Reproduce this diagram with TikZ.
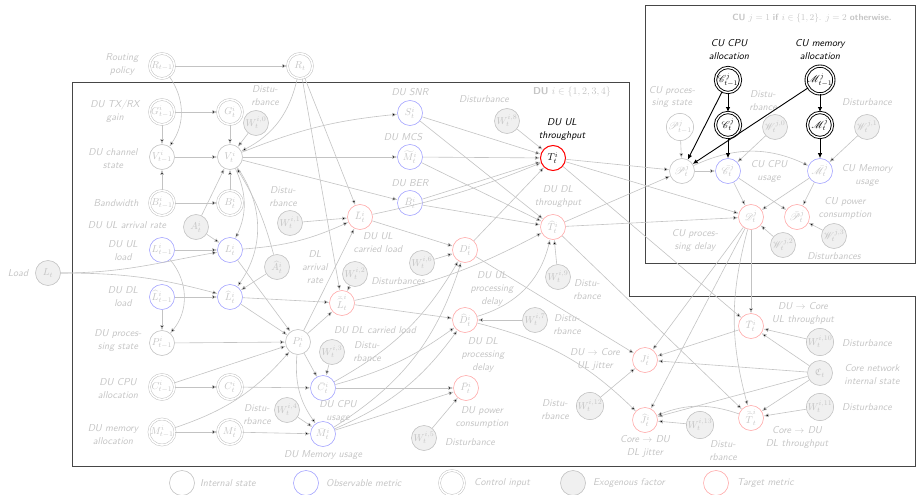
\documentclass[tikz,border=0pt]{standalone}
\usepackage{amssymb,mathrsfs}
\usetikzlibrary{arrows.meta}
\definecolor{lgray}{RGB}{195,195,195}
\definecolor{tgray}{RGB}{196,196,196}
\definecolor{lblue}{RGB}{165,165,255}
\definecolor{lred}{RGB}{255,170,170}
\definecolor{egray}{RGB}{240,240,240}
\definecolor{boxc}{RGB}{70,70,70}
\begin{document}
\begin{tikzpicture}[x=1pt,y=1pt,
  base/.style={circle,minimum size=25pt,inner sep=0pt,font=\normalsize,text=tgray},
  inode/.style={base,draw=lgray,line width=0.6pt},
  obs/.style={base,draw=lblue,line width=0.6pt},
  tgt/.style={base,draw=lred,line width=0.6pt},
  exo/.style={base,draw=lgray,fill=egray,line width=0.6pt},
  ctrl/.style={base,draw=lgray,line width=0.5pt,double=white,double distance=1.5pt},
  kctrl/.style={base,draw=black,text=black,line width=0.9pt,double=white,double distance=1.4pt},
  hot/.style={base,draw=red,text=black,line width=1pt},
  lbl/.style={font=\fontsize{10}{13}\selectfont\sffamily\itshape,text=tgray,align=center,inner sep=0pt},
  klbl/.style={lbl,text=black},
  edge/.style={draw=lgray,line width=0.6pt,-{Latex[length=5pt,width=4pt]}},
  kedge/.style={draw=black,line width=0.9pt,-{Latex[length=5pt,width=4.5pt]}},
  frame/.style={draw=boxc,line width=0.9pt}]
\useasboundingbox (0,0) rectangle (916,-495);
% frames
\draw[frame] (72,-82) -- (629,-82) -- (629,-296) -- (915,-296) -- (915,-466) -- (72,-466) -- cycle;
\draw[frame] (645,-5) rectangle (915,-263);
% ---------------- nodes: left columns
\node[ctrl] (Rm) at (162,-66) {$R_{t-1}$};
\node[ctrl] (R) at (300,-66) {$R_t$};
\node[ctrl] (Gm) at (162,-112) {$G^i_{t-1}$};
\node[ctrl] (G) at (230,-112) {$G^i_t$};
\node[inode] (Vm) at (162,-157) {$V^i_{t-1}$};
\node[inode] (V) at (230,-157) {$V^i_t$};
\node[ctrl] (Bm) at (162,-203) {$B^i_{t-1}$};
\node[ctrl] (B) at (230,-203) {$B^i_t$};
\node[exo] (A) at (196,-227) {$A^i_t$};
\node[obs] (Lm) at (162,-250) {$L^i_{t-1}$};
\node[obs] (Lt) at (230,-250) {$L^i_t$};
\node[exo] (Load) at (48,-273) {$L_t$};
\node[obs] (Hm) at (162,-297) {$\widehat{L}^i_{t-1}$};
\node[obs] (H) at (230,-297) {$\widehat{L}^i_t$};
\node[inode] (Pm) at (162,-343) {$P^i_{t-1}$};
\node[ctrl] (Cm) at (162,-387) {$C^i_{t-1}$};
\node[ctrl] (C) at (230,-387) {$C^i_t$};
\node[ctrl] (Mm) at (162,-432) {$M^i_{t-1}$};
\node[ctrl] (M) at (230,-432) {$M^i_t$};
\node[inode] (P) at (298,-342) {$P^i_t$};
% middle
\node[exo] (W0) at (256,-123) {$W^{i,0}_t$};
\node[obs] (S) at (410,-113) {$S^i_t$};
\node[obs] (MC) at (410,-157) {$\widetilde{M}^i_t$};
\node[obs] (BE) at (410,-203) {$\bar{B}^i_t$};
\node[exo] (W1) at (290,-223) {$W^{i,1}_t$};
\node[exo] (AH) at (277,-267) {$\widehat{A}^i_t$};
\node[tgt] (UL) at (360,-217) {$\bar{L}^i_t$};
\node[exo] (W2) at (355,-274) {$W^{i,2}_t$};
\node[tgt] (DL) at (342,-303) {$\bar{\widehat{L}}^i_t$};
\node[exo] (W6) at (422,-263) {$W^{i,6}_t$};
\node[exo] (W3) at (332,-352) {$W^{i,3}_t$};
\node[obs] (Cb) at (323,-388) {$\bar{C}^i_t$};
\node[exo] (W4) at (287,-410) {$W^{i,4}_t$};
\node[obs] (Mb) at (323,-434) {$\bar{M}^i_t$};
\node[exo] (W5) at (424,-438) {$W^{i,5}_t$};
\node[tgt] (Pb) at (466,-388) {$\bar{P}^i_t$};
\node[tgt] (D) at (465,-250) {$D^i_t$};
\node[tgt] (DH) at (465,-320) {$\widehat{D}^i_t$};
\node[exo] (W7) at (535,-320) {$W^{i,7}_t$};
\node[exo] (W8) at (507,-121) {$W^{i,8}_t$};
\node[hot] (T) at (553,-158) {$T^i_t$};
\node[tgt] (TH) at (553,-227) {$\widehat{T}^i_t$};
\node[exo] (W9) at (558,-277) {$W^{i,9}_t$};
% CU
\node[kctrl] (cCm) at (728,-80) {$\mathscr{C}^j_{t-1}$};
\node[kctrl] (cC) at (728,-125) {$\mathscr{C}^j_t$};
\node[kctrl] (mMm) at (820,-80) {$\mathscr{M}^j_{t-1}$};
\node[kctrl] (mM) at (820,-125) {$\mathscr{M}^j_t$};
\node[inode] (sPm) at (680,-127) {$\mathscr{P}^j_{t-1}$};
\node[exo] (sW0) at (775,-127) {$\mathscr{W}^{j,0}_t$};
\node[exo] (sW1) at (867,-127) {$\mathscr{W}^{j,1}_t$};
\node[inode] (sP) at (682,-171) {$\mathscr{P}^j_t$};
\node[obs] (sCb) at (728,-171) {$\bar{\mathscr{C}}^j_t$};
\node[obs] (sMb) at (820,-171) {$\bar{\mathscr{M}}^j_t$};
\node[tgt] (sD) at (751,-217) {$\mathscr{D}^j_t$};
\node[tgt] (sPb) at (797,-217) {$\bar{\mathscr{P}}^j_t$};
\node[exo] (sW2) at (783,-245) {$\mathscr{W}^{j,2}_t$};
\node[exo] (sW3) at (834,-236) {$\mathscr{W}^{j,3}_t$};
% lower right
\node[tgt] (Tu) at (751,-326) {$\bar{T}^i_t$};
\node[exo] (W10) at (820,-342) {$W^{i,10}_t$};
\node[exo] (Core) at (820,-373) {$\mathfrak{C}_t$};
\node[exo] (W11) at (820,-407) {$W^{i,11}_t$};
\node[tgt] (Td) at (751,-418) {$\bar{\widehat{T}}^i_t$};
\node[tgt] (J) at (645,-360) {$J^i_t$};
\node[tgt] (JH) at (645,-420) {$\widehat{J}^i_t$};
\node[exo] (W12) at (590,-406) {$W^{i,12}_t$};
\node[exo] (W13) at (700,-425) {$W^{i,13}_t$};
% ---------------- labels
\node[lbl] (l1) at (122,-65) {Routing\\policy};
\node[lbl] (l2) at (115,-111) {DU TX/RX\\gain};
\node[lbl] (l3) at (113,-159) {DU channel\\state};
\node[lbl] (l4) at (116,-203) {Bandwidth};
\node[lbl] (l5) at (127,-225) {DU UL arrival rate};
\node[lbl] (l6) at (123,-251) {DU UL\\load};
\node[lbl] (l7) at (18,-273) {Load};
\node[lbl] (l8) at (123,-297) {DU DL\\load};
\node[lbl] (l9) at (118,-341) {DU proces-\\sing state};
\node[lbl] (l10) at (118,-389) {DU CPU\\allocation};
\node[lbl] (l11) at (113,-435) {DU memory\\allocation};
\node[lbl] (l12) at (265,-96) {Distu-\\rbance};
\node[lbl] (l13) at (410,-92) {DU SNR};
\node[lbl] (l14) at (403,-137) {DU MCS};
\node[lbl] (l15) at (410,-183) {DU BER};
\node[lbl] (l16) at (283,-197) {Distu-\\rbance};
\node[lbl] (l17) at (378,-243) {DU UL\\carried load};
\node[lbl] (l18) at (315,-267) {DL\\arrival\\rate};
\node[lbl] (l19) at (398,-281) {Disturbances};
\node[lbl] (l20) at (375,-330) {DU DL carried load};
\node[lbl] (l21) at (367,-352) {Distu-\\rbance};
\node[lbl] (l22) at (338,-411) {DU CPU\\usage};
\node[lbl] (l23) at (257,-415) {Distu-\\rbance};
\node[lbl] (l24) at (323,-455) {DU Memory usage};
\node[lbl] (l25) at (470,-442) {Disturbance};
\node[lbl] (l26) at (482,-417) {DU power\\consumption};
\node[lbl] (l27) at (492,-289) {DU UL\\processing\\delay};
\node[lbl] (l28) at (483,-355) {DU DL\\processing\\delay};
\node[lbl] (l29) at (567,-325) {Distu-\\rbance};
\node[lbl] (l30) at (558,-197) {DU DL\\throughput};
\node[lbl] (l31) at (587,-290) {Distu-\\rbance};
\node[lbl] (l32) at (484,-99) {Disturbance};
\node[klbl] (l33) at (562,-130) {DU UL\\throughput};
\node[lbl,font=\fontsize{10}{13}\selectfont\sffamily] (l34) at (572,-92) {\textbf{DU} $i\in\{1,2,3,4\}$};
\node[lbl,font=\fontsize{9}{12}\selectfont\sffamily] (l35) at (812,-18) {\textbf{CU} $j=1$ \textbf{if} $i\in\{1,2\}$. $j=2$ \textbf{otherwise.}};
\node[klbl] (l36) at (729,-50) {CU CPU\\allocation};
\node[klbl] (l37) at (820,-50) {CU memory\\allocation};
\node[lbl] (l38) at (672,-97) {CU proces-\\sing state};
\node[lbl] (l39) at (763,-101) {Distu-\\rbance};
\node[lbl] (l40) at (867,-102) {Disturbance};
\node[lbl] (l41) at (769,-171) {CU CPU\\usage};
\node[lbl] (l42) at (867,-175) {CU Memory\\usage};
\node[lbl] (l43) at (845,-208) {CU power\\consumption};
\node[lbl] (l44) at (695,-240) {CU proces-\\sing delay};
\node[lbl] (l45) at (834,-256) {Disturbances};
\node[lbl] (l46) at (803,-313) {DU $\to$ Core\\UL throughput};
\node[lbl] (l47) at (867,-343) {Disturbance};
\node[lbl] (l48) at (872,-375) {Core network\\internal state};
\node[lbl] (l49) at (867,-407) {Disturbance};
\node[lbl] (l50) at (797,-437) {Core $\to$ DU\\DL throughput};
\node[lbl] (l51) at (595,-359) {DU $\to$ Core\\UL jitter};
\node[lbl] (l52) at (645,-446) {Core $\to$ DU\\DL jitter};
\node[lbl] (l53) at (555,-410) {Distu-\\rbance};
\node[lbl] (l54) at (723,-451) {Distu-\\rbance};
% legend
\node[inode] (g1) at (182,-483) {};
\node[lbl,anchor=west] (g1t) at (200,-483) {Internal state};
\node[obs] (g2) at (306,-483) {};
\node[lbl,anchor=west] (g2t) at (326,-483) {Observable metric};
\node[ctrl] (g3) at (452,-483) {};
\node[lbl,anchor=west] (g3t) at (474,-483) {Control input};
\node[exo] (g4) at (573,-483) {};
\node[lbl,anchor=west] (g4t) at (593,-483) {Exogenous factor};
\node[tgt] (g5) at (716,-483) {};
\node[lbl,anchor=west] (g5t) at (737,-483) {Target metric};
% ---------------- edges
\path[edge]
 (Rm) edge (R)
 (Rm) edge[bend left=35] (Vm)
 (Gm) edge (Vm) (Gm) edge (G) (G) edge (V)
 (Vm) edge (V)
 (Bm) edge (Vm) (Bm) edge (B) (B) edge (V)
 (R) edge[bend left=25] (V)
 (W0) edge (V)
 (V) edge[bend left=8] (S)
 (V) edge (MC)
 (V) edge (BE)
 (V) edge[bend left=25] (Lt)
 (V) edge[bend left=35] (H)
 (A) edge (V)
 (AH) edge[bend right=8] (V)
 (A) edge (Lt)
 (AH) edge (H)
 (Lm) edge (Lt)
 (Lm) edge[bend left=40] (Pm)
 (Hm) edge (H) (Hm) edge (Pm)
 (Load) edge[out=0,in=190] (Lt)
 (Load) edge[out=0,in=165] (H)
 (Pm) edge (P) (Cm) edge (C) (Cm) edge (P)
 (Mm) edge (M) (Mm) edge[bend right=15] (P)
 (Lt) edge (P) (H) edge (P)
 (Lt) edge[bend right=10] (UL)
 (H) edge (DL)
 (W1) edge (UL) (W2) edge (DL)
 (R) edge (UL) (R) edge (DL)
 (P) edge (UL) (P) edge (DL)
 (P) edge (Cb) (P) edge[bend right=20] (Mb)
 (C) edge (Cb) (M) edge (Mb)
 (W3) edge (Cb) (W4) edge (Mb)
 (Cb) edge (Pb) (Mb) edge (Pb) (W5) edge (Pb)
 (Cb) edge[bend right=15] (D)
 (Cb) edge[bend right=10] (DH)
 (Mb) edge[bend right=20] (D)
 (Mb) edge[bend right=15] (DH)
 (UL) edge (D)
 (UL) edge[bend right=5] (T)
 (DL) edge (DH)
 (DL) edge[bend right=8] (TH)
 (W6) edge (D)
 (S) edge (T) (S) edge (TH)
 (MC) edge (T) (MC) edge (TH)
 (BE) edge (T) (BE) edge (TH)
 (W8) edge (T) (W9) edge (TH)
 (D) edge (T) (D) edge (J)
 (DH) edge[bend right=30] (TH)
 (W7) edge (DH)
 (DH) edge[bend left=15] (JH)
 (T) edge (sP) (T) edge (sD)
 (TH) edge (sP) (TH) edge (sD)
 (T) edge (Tu)
 (TH) edge (Td)
 (sPm) edge (sP)
 (sP) edge (sCb)
 (sP) edge[bend left=25] (sMb)
 (sW0) edge (sCb) (sW1) edge (sMb)
 (sCb) edge (sD) (sCb) edge (sPb)
 (sMb) edge (sD) (sMb) edge (sPb)
 (sW2) edge (sD) (sW3) edge (sPb)
 (sD) edge (Tu)
 (sD) edge[bend right=15] (Td)
 (sD) edge (J) (sD) edge (JH)
 (Core) edge (Tu) (Core) edge (J) (Core) edge (JH) (Core) edge (Td)
 (W10) edge (Tu) (W11) edge (Td) (W12) edge (J) (W13) edge (JH)
 (Tu) edge (J)
 (Td) edge[bend right=20] (JH);
\path[kedge]
 (cCm) edge (cC) (cCm) edge (sP)
 (mMm) edge (mM) (mMm) edge (sP)
 (cC) edge (sCb) (mM) edge (sMb);
\end{tikzpicture}
\end{document}
